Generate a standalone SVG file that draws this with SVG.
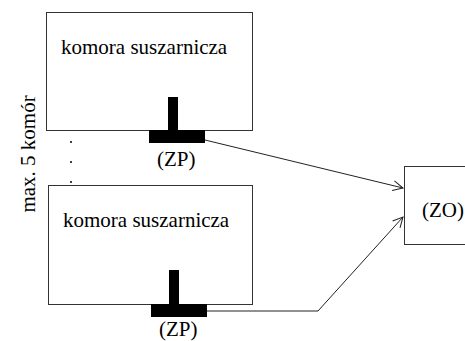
<svg xmlns="http://www.w3.org/2000/svg" width="465" height="341" viewBox="0 0 465 341">
<style>
.box{fill:#fff;stroke:#333;stroke-width:1}
.t{font-family:'Liberation Serif','Times New Roman',Times,'DejaVu Serif',serif;font-size:21px;fill:#000}
.c{fill:none;stroke:#222;stroke-width:1}
</style>
<defs>
<marker id="ah" markerWidth="12" markerHeight="12" refX="11" refY="6" orient="auto" markerUnits="userSpaceOnUse">
<path d="M1,1 L11,6 L1,11" fill="none" stroke="#222" stroke-width="1"/>
</marker>
</defs>
<rect width="465" height="341" fill="#fff"/>
<g id="label-max">
<text class="t" font-family="Liberation Serif, serif" transform="translate(35,154) rotate(-90)" text-anchor="middle">max. 5 komór</text>
<circle cx="71" cy="142" r="1" fill="#000"/>
<circle cx="71" cy="162" r="1" fill="#000"/>
<circle cx="71" cy="182" r="1" fill="#000"/>
</g>
<g id="connectors">
<path class="c" d="M205,140 L403,188" marker-end="url(#ah)"/>
<path class="c" d="M207,311 L318,311 L403,217" marker-end="url(#ah)"/>
</g>
<g id="chamber1">
<rect class="box" x="46.5" y="12.5" width="206" height="118"/>
<text class="t" x="61" y="54">komora suszarnicza</text>
<rect x="168" y="97" width="10" height="34" fill="#000"/>
<rect x="149" y="130" width="56" height="13" fill="#000"/>
<text class="t" x="157" y="166">(ZP)</text>
</g>
<g id="chamber2">
<rect class="box" x="48.5" y="185.5" width="204" height="119"/>
<text class="t" x="63" y="227">komora suszarnicza</text>
<rect x="169" y="270" width="10" height="35" fill="#000"/>
<rect x="151" y="304" width="56" height="13" fill="#000"/>
<text class="t" x="159" y="336">(ZP)</text>
</g>
<g id="zo">
<rect class="box" x="404.5" y="166.5" width="70" height="78"/>
<text class="t" x="422" y="217">(ZO)</text>
</g>
</svg>
